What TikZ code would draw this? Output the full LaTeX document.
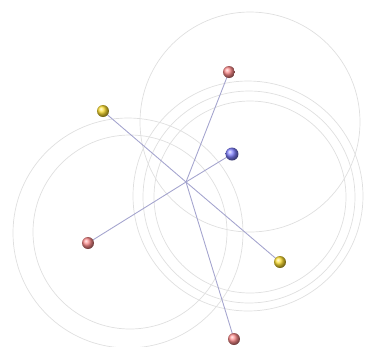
\documentclass[tikz,border=0pt]{standalone}
\begin{document}
\begin{tikzpicture}[x=0.02cm, y=-0.02cm, line join=round, line cap=round]
			\useasboundingbox (0,0) rectangle (366,346);
			\tikzset{orbit/.style={gray!25, line width=0.4pt},
				bond/.style={blue!30!gray!55, line width=0.5pt}}
			
			% orbits
			\draw[orbit] (250,122) circle (110);
			\draw[orbit] (128,233) circle (115);
			\draw[orbit] (130,232) circle (97);
			\draw[orbit] (248,196) circle (115);
			\draw[orbit] (249,197) circle (106);
			\draw[orbit] (250,197) circle (96);
			
			\coordinate (C) at (186,182);
			\coordinate (R1) at (229,72);
			\coordinate (R2) at (88,243);
			\coordinate (R3) at (234,339);
			\coordinate (Y1) at (103,111);
			\coordinate (Y2) at (280,262);
			\coordinate (B) at (232,154);
			
			% bonds
			\draw[bond] (Y1) -- (C) -- (Y2);
			\draw[bond] (R2) -- (C) -- (B);
			\draw[bond] (R1) -- (C) -- (R3);
			
			% atoms
			\shade[ball color=red!45!white] (R1) circle (6);
			\shade[ball color=red!45!white] (R2) circle (6);
			\shade[ball color=red!45!white] (R3) circle (6);
			\shade[ball color=yellow!70!orange!80!white] (Y1) circle (6);
			\shade[ball color=yellow!70!orange!80!white] (Y2) circle (6);
			\shade[ball color=blue!50!white] (B) circle (6.5);
		\end{tikzpicture}
\end{document}
